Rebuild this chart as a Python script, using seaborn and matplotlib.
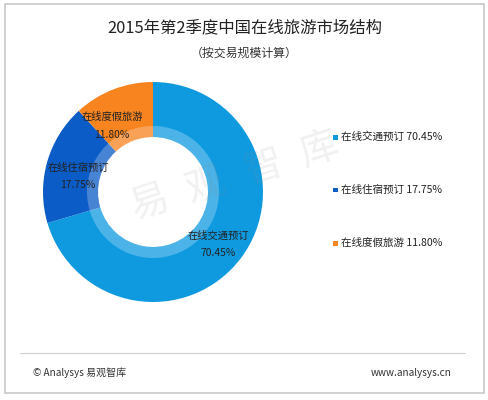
import matplotlib
matplotlib.use("Agg")
import matplotlib.pyplot as plt
import seaborn as sns
from matplotlib.patches import Rectangle, Wedge

# data
categories = ['在线交通预订', '在线住宿预订', '在线度假旅游']
shares = [70.45, 17.75, 11.80]
colors = ['#0f9ae0', '#0b5cc6', '#f7841f']
title = '2015年第2季度中国在线旅游市场结构'
subtitle = '（按交易规模计算）'

sns.set_theme(style="white")
plt.rcParams['font.family'] = ['Noto Sans CJK SC', 'DejaVu Sans']

W, H = 489, 400
fig = plt.figure(figsize=(W / 100, H / 100), dpi=100)
fig.patch.set_facecolor('white')

def fx(px):
    return px / W

def fy(py):
    return 1 - py / H

# frame and footer line
fig.patches.append(Rectangle((fx(5), fy(393)), fx(479), (389) / H, transform=fig.transFigure,
                             fill=False, edgecolor='#c8c8c8', linewidth=1.2))
fig.add_artist(plt.Line2D([fx(20), fx(465)], [fy(353), fy(353)], transform=fig.transFigure,
                          color='#cfcfcf', linewidth=0.8))

fig.text(0.5, fy(28), title, ha='center', va='center', fontsize=11.8, color='#222222')
fig.text(0.5, fy(53), subtitle, ha='center', va='center', fontsize=8.6, color='#333333')

# donut
cx, cy, r = 153, 192, 110
ax = fig.add_axes([fx(cx - r), fy(cy + r), 2 * r / W, 2 * r / H])
wedges, _ = ax.pie(shares, colors=colors, startangle=90, counterclock=False,
                   radius=1.0, wedgeprops=dict(width=0.5, linewidth=0))
ax.add_patch(Wedge((0, 0), 0.6, 0, 360, width=0.1, facecolor='white', alpha=0.25, linewidth=0))
ax.set_xlim(-1, 1)
ax.set_ylim(-1, 1)
ax.set_aspect('equal')
ax.axis('off')

# slice labels (pixel positions)
label_pos = [(218, 236, 253), (78, 168, 185), (112, 117, 135)]
for name, val, (lx, ly1, ly2) in zip(categories, shares, label_pos):
    fig.text(fx(lx), fy(ly1), name, ha='center', va='center', fontsize=7.4, color='#222222')
    fig.text(fx(lx), fy(ly2), f'{val:.2f}%', ha='center', va='center', fontsize=7.4, color='#222222')

# legend
for i, (name, val, c) in enumerate(zip(categories, shares, colors)):
    ly = 137 + i * 53
    fig.patches.append(Rectangle((fx(333), fy(ly + 2.5)), fx(5), 5 / H, transform=fig.transFigure,
                                 facecolor=c, edgecolor='none'))
    fig.text(fx(341), fy(ly), f'{name} {val:.2f}%', ha='left', va='center', fontsize=7.6, color='#222222')

# watermark
for ch, (wx, wy) in zip('易观智库', [(150, 203), (206, 186), (264, 168), (320, 150)]):
    fig.text(fx(wx), fy(wy), ch, ha='center', va='center', fontsize=28, rotation=18,
             color='#888888', alpha=0.12)

# footer
fig.text(fx(33), fy(373), '© Analysys 易观智库', ha='left', va='center', fontsize=7.2, color='#333333')
fig.text(fx(452), fy(373), 'www.analysys.cn', ha='right', va='center', fontsize=7.2, color='#333333')

fig.savefig('out.png', dpi=100)
